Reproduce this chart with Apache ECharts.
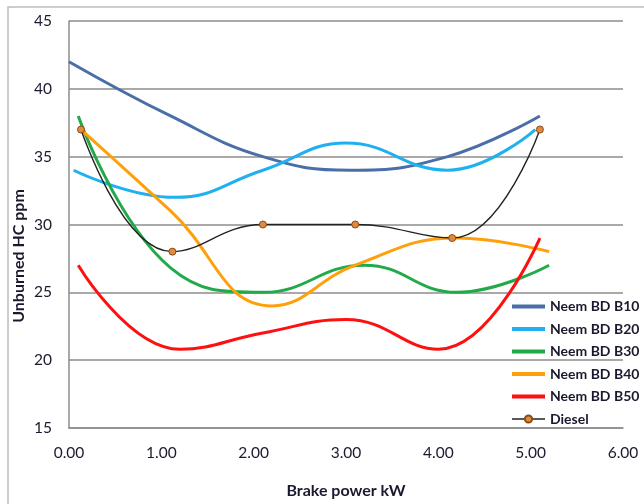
<!DOCTYPE html>
<html>
<head>
<meta charset="utf-8">
<script src="https://cdn.jsdelivr.net/npm/echarts@6/dist/echarts.min.js"></script>
<style>
html,body{margin:0;padding:0;background:#fff;}
#chart{width:644px;height:504px;}
</style>
</head>
<body>
<div id="chart"></div>
<script>
const xTicks = [0, 1, 2, 3, 4, 5, 6];
const yTicks = [15, 20, 25, 30, 35, 40, 45];

const b10X = [0.0, 1.1, 2.1, 3.05, 4.1, 5.1];
const b10Y = [42, 38, 35, 34, 35, 38];

const b20X = [0.05, 1.15, 2.1, 3.0, 4.1, 5.05];
const b20Y = [34, 32, 34, 36, 34, 37];

const b30X = [0.1, 1.1, 2.1, 3.2, 4.2, 5.2];
const b30Y = [38, 26.8, 25, 27, 25, 27];

const b40X = [0.13, 1.1, 2.2, 3.1, 4.2, 5.2];
const b40Y = [37, 31, 24, 27, 29, 28];

const b50X = [0.1, 1.2, 2.1, 3.0, 4.0, 5.1];
const b50Y = [27, 20.8, 22, 23, 20.8, 29];

const dieselX = [0.13, 1.12, 2.1, 3.1, 4.15, 5.1];
const dieselY = [37, 28, 30, 30, 29, 37];

const seriesNames = ['Neem BD B10', 'Neem BD B20', 'Neem BD B30', 'Neem BD B40', 'Neem BD B50', 'Diesel'];

function pairs(xs, ys) { return xs.map((x, i) => [x, ys[i]]); }

const chart = echarts.init(document.getElementById('chart'), null, {renderer: 'canvas'});

function lineSeries(name, xs, ys, color) {
  return {
    name: name, type: 'line', smooth: 0.45, symbol: 'none',
    data: pairs(xs, ys),
    lineStyle: {color: color, width: 3},
    itemStyle: {color: color},
    z: 3
  };
}

const legendData = seriesNames.map((n, i) => i < 5
  ? {name: n, itemStyle: {opacity: 0}, lineStyle: {width: 4}}
  : {name: n, lineStyle: {width: 1.5}});

const option = {
  backgroundColor: '#ffffff',
  animation: false,
  textStyle: {fontFamily: 'Lato'},
  grid: {left: 69, right: 21, top: 21, bottom: 74},
  xAxis: {
    type: 'value', min: xTicks[0], max: xTicks[xTicks.length - 1], interval: 1,
    axisLine: {show: true, lineStyle: {color: '#8c8c8c', width: 1.5}},
    axisTick: {show: false},
    splitLine: {show: false},
    axisLabel: {color: '#1a1a2e', fontSize: 15.5, margin: 17, formatter: v => v.toFixed(2)},
    name: 'Brake power kW', nameLocation: 'middle', nameGap: 55,
    nameTextStyle: {color: '#1a1a2e', fontSize: 16, fontWeight: 'bold'}
  },
  yAxis: {
    type: 'value', min: yTicks[0], max: yTicks[yTicks.length - 1], interval: 5,
    axisLine: {show: true, lineStyle: {color: '#8c8c8c', width: 1.5}},
    axisTick: {show: false},
    splitLine: {show: true, lineStyle: {color: '#8c8c8c', width: 1.5}},
    axisLabel: {color: '#1a1a2e', fontSize: 15.5, margin: 17}
  },
  legend: {
    orient: 'vertical', left: 505, top: 293, width: 139,
    itemWidth: 33, itemHeight: 9, itemGap: 5.5,
    textStyle: {color: '#1a1a2e', fontSize: 14, fontWeight: 'bold', lineHeight: 17},
    data: legendData
  },
  graphic: [
    {type: 'rect', shape: {x: 8, y: 7, width: 660, height: 520},
     style: {fill: 'none', stroke: '#bdbdbd', lineWidth: 1.5}, silent: true},
    {type: 'text', x: 19, y: 256, rotation: Math.PI / 2,
     style: {text: 'Unburned HC ppm', fill: '#1a1a2e', font: 'bold 16px Lato', align: 'center', verticalAlign: 'middle'}}
  ],
  series: [
    lineSeries(seriesNames[0], b10X, b10Y, '#4a6fa8'),
    lineSeries(seriesNames[1], b20X, b20Y, '#1fb0f0'),
    lineSeries(seriesNames[2], b30X, b30Y, '#22aa4a'),
    lineSeries(seriesNames[3], b40X, b40Y, '#ffa00a'),
    lineSeries(seriesNames[4], b50X, b50Y, '#ff1010'),
    {
      name: seriesNames[5], type: 'line', smooth: 0.45,
      data: pairs(dieselX, dieselY),
      symbol: 'circle', symbolSize: 7,
      lineStyle: {color: '#222222', width: 1.4},
      itemStyle: {color: '#e08a3c', borderColor: '#8a4a1a', borderWidth: 1},
      z: 4
    }
  ]
};
chart.setOption(option);
</script>
</body>
</html>
